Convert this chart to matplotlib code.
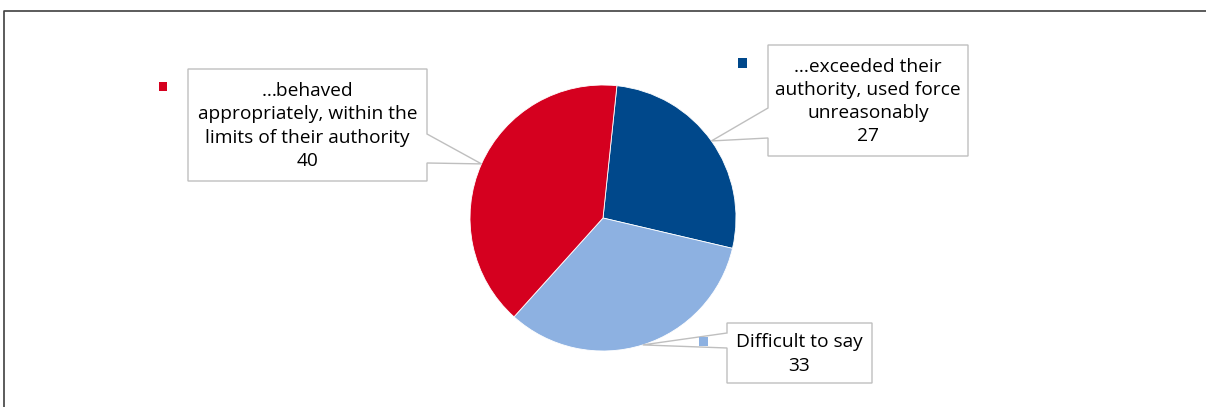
import numpy as np
import matplotlib.pyplot as plt
from matplotlib.patches import Polygon, Rectangle

plt.rcParams['font.family'] = ['Open Sans', 'DejaVu Sans']

# data
labels = ["…exceeded their\nauthority, used force\nunreasonably",
          "Difficult to say",
          "…behaved\nappropriately, within the\nlimits of their authority"]
values = [27, 33, 40]
colors = ["#00488B", "#8DB1E1", "#D5001F"]

W, H = 1206, 407
CX, CY, R = 603, 218, 133  # pie centre / radius in pixels


def p2d(px, py):
    # pixel (top-left origin) -> data units of the pie axes
    return ((px - CX) / R, (CY - py) / R)


fig = plt.figure(figsize=(W / 100, H / 100), dpi=100)
ax = fig.add_axes([0, 0, 1, 1])

wedges, _ = ax.pie(values, colors=colors, startangle=84, counterclock=False,
                   radius=1, wedgeprops=dict(linewidth=0.6, edgecolor="white"))
ax.set_xlim(-CX / R, (W - CX) / R)
ax.set_ylim(-(H - CY) / R, CY / R)
ax.set_aspect("equal")
ax.axis("off")

# callout boxes: (left, top, right, bottom, notch y1, notch y2, side)
boxes = [
    (768, 45, 968, 156, 108, 138, "left"),
    (727, 323, 872, 383, 333, 348, "left"),
    (188, 69, 427, 181, 134, 163, "right"),
]
markers = [(742, 63), (703, 341), (163, 86)]

for w, lab, val, col, bx, mk in zip(wedges, labels, values, colors, boxes, markers):
    mid = np.deg2rad((w.theta1 + w.theta2) / 2)
    tip = (np.cos(mid) * 1.0, np.sin(mid) * 1.0)
    l, t, r, b, n1, n2, side = bx
    if side == "left":
        pts = [p2d(l, t), p2d(r, t), p2d(r, b), p2d(l, b), p2d(l, n2), tip, p2d(l, n1)]
    else:
        pts = [p2d(l, t), p2d(r, t), p2d(r, n1), tip, p2d(r, n2), p2d(r, b), p2d(l, b)]
    ax.add_patch(Polygon(pts, closed=True, facecolor="white", edgecolor="#BFBFBF",
                         linewidth=1.0, zorder=3, clip_on=False))
    tx, ty = p2d((l + r) / 2, (t + b) / 2 + 1)
    ax.text(tx, ty, f"{lab}\n{val}", ha="center", va="center", fontsize=13.8,
            color="black", linespacing=1.38, zorder=4)
    mx, my = p2d(mk[0] - 4.5, mk[1] + 4.5)
    ax.add_patch(Rectangle((mx, my), 9 / R, 9 / R, facecolor=col, edgecolor="none", zorder=4))

# outer frame of the chart area
fx0, fy0 = p2d(4, 11)
fx1, fy1 = p2d(W + 5, H + 5)
ax.plot([fx0, fx0, fx1], [fy1, fy0, fy0], color="#404040", linewidth=1.2, clip_on=False)

fig.savefig("out.png", dpi=100)
